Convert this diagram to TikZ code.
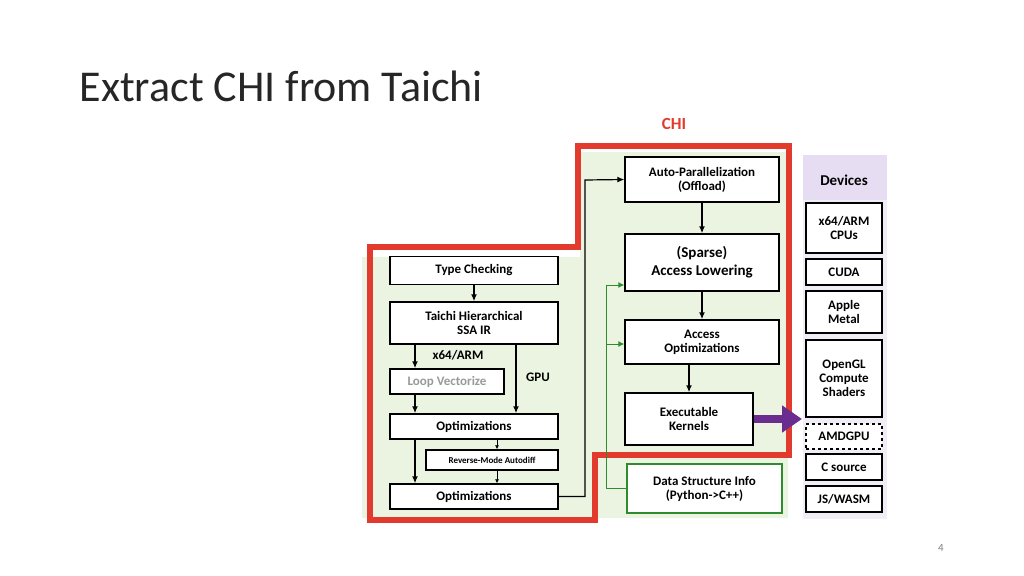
\documentclass[tikz,border=0pt]{standalone}
\usepackage{fontspec}
\setmainfont{Carlito}
\usetikzlibrary{arrows.meta,positioning}
\definecolor{chired}{HTML}{E23B2E}
\definecolor{bggreen}{HTML}{EBF4E1}
\definecolor{devbg}{HTML}{F1EDF7}
\definecolor{devhead}{HTML}{E6DDF3}
\definecolor{dsgreen}{HTML}{2E8B2E}
\definecolor{kpurple}{HTML}{6A2C8E}
\tikzset{
  stage/.style={draw, line width=1.4pt, fill=white, align=center, font=\bfseries\fontsize{13}{14}\selectfont, inner sep=0pt},
  dev/.style={stage, minimum width=76pt},
  flow/.style={-{Latex[length=7pt,width=6pt]}, line width=1.4pt},
  thin flow/.style={-{Latex[length=4pt,width=4pt]}, line width=0.7pt},
  feed/.style={-{Latex[length=6pt,width=6pt]}, line width=1pt, dsgreen}
}
\begin{document}
\begin{tikzpicture}[x=1pt,y=-1pt]
  \useasboundingbox (0,0) rectangle (1024,575);
  % slide title
  \node[anchor=base west, font=\fontsize{44}{48}\selectfont, text=black!85] (title) at (76,102) {Extract CHI from Taichi};
  \node[text=black!50, font=\fontsize{11}{12}\selectfont] (page) at (941,548) {4};

  % backgrounds
  \fill[bggreen] (362,257) -- (580,257) -- (580,152) -- (788,152) -- (788,518) -- (362,518) -- cycle;
  \fill[devbg] (803,155) rectangle (887,519);
  \fill[devhead] (803,155) rectangle (887,200);

  % left column
  \node[stage, minimum width=168pt, minimum height=28pt] (tc) at (474,270.5) {Type Checking};
  \node[stage, minimum width=168pt, minimum height=42pt] (ssa) at (474,323) {Taichi Hierarchical\\SSA IR};
  \node[stage, minimum width=114pt, minimum height=25pt, text=black!40] (lv) at (447,381.5) {Loop Vectorize};
  \node[stage, minimum width=168pt, minimum height=25pt] (opt1) at (474,426.5) {Optimizations};
  \node[stage, minimum width=132pt, minimum height=20pt, font=\bfseries\fontsize{9}{10}\selectfont] (rev) at (492,460) {Reverse-Mode Autodiff};
  \node[stage, minimum width=168pt, minimum height=25pt] (opt2) at (474,496.5) {Optimizations};
  \node[font=\bfseries\fontsize{13}{14}\selectfont] (x64) at (458,355) {x64/ARM};
  \node[font=\bfseries\fontsize{13}{14}\selectfont] (gpu) at (538,377) {GPU};

  % right column
  \node[stage, minimum width=154pt, minimum height=45pt] (par) at (702,179.5) {Auto-Parallelization\\(Offload)};
  \node[stage, minimum width=154pt, minimum height=57pt, font=\bfseries\fontsize{15}{18}\selectfont] (low) at (702,262.5) {(Sparse)\\Access Lowering};
  \node[stage, minimum width=154pt, minimum height=44pt] (aopt) at (702,342) {Access\\Optimizations};
  \node[stage, minimum width=128pt, minimum height=52pt] (exe) at (689,419) {Executable\\Kernels};
  \node[stage, draw=dsgreen, minimum width=155pt, minimum height=49pt] (dsi) at (704.5,488.5) {Data Structure Info\\(Python->C++)};

  % devices
  \node[font=\bfseries\fontsize{15}{16}\selectfont] (devs) at (844,180) {Devices};
  \node[dev, minimum height=50pt] (cpu) at (844,228) {x64/ARM\\CPUs};
  \node[dev, minimum height=26pt] (cuda) at (844,272) {CUDA};
  \node[dev, minimum height=42pt] (metal) at (844,312) {Apple\\Metal};
  \node[dev, minimum height=77pt] (gl) at (844,378.5) {OpenGL\\Compute\\Shaders};
  \node[dev, dashed, minimum height=25pt] (amd) at (844,436.5) {AMDGPU};
  \node[dev, minimum height=26pt] (csrc) at (844,467) {C source};
  \node[dev, minimum height=26pt] (js) at (844,499) {JS/WASM};

  % CHI outline
  \draw[chired, line width=5.5pt, line join=miter] (370,247) -- (578,247) -- (578,146) -- (789,146) -- (789,455) -- (595,455) -- (595,520) -- (370,520) -- cycle;
  \node[text=chired, font=\bfseries\fontsize{17}{18}\selectfont] (chi) at (674,124) {CHI};

  % left flow
  \draw[flow] (tc) -- (ssa);
  \draw[flow] (ssa.south -| 415,0) -- (lv.north -| 415,0);
  \draw[flow] (lv.south -| 415,0) -- (opt1.north -| 415,0);
  \draw[flow] (ssa.south -| 516,0) -- (opt1.north -| 516,0);
  \draw[flow] (opt1.south -| 415,0) -- (opt2.north -| 415,0);
  \draw[thin flow] (opt1.south -| 497,0) -- (rev.north -| 497,0);
  \draw[thin flow] (rev.south -| 497,0) -- (opt2.north -| 497,0);
  \draw[flow, line width=1.2pt] (opt2.east) -| (585,180) -- (par.west);

  % right flow
  \draw[flow] (par) -- (low);
  \draw[flow] (low) -- (aopt);
  \draw[flow] (aopt.south -| exe.north) -- (exe.north);
  \draw[feed] (dsi.west) -| (606,285) -- (low.west |- 0,285);
  \draw[feed] (606,344) -- (aopt.west |- 0,344);
  \draw[-{Triangle[length=20pt,width=26pt]}, line width=8pt, kpurple] (exe.east) -- (802,419);
\end{tikzpicture}
\end{document}
